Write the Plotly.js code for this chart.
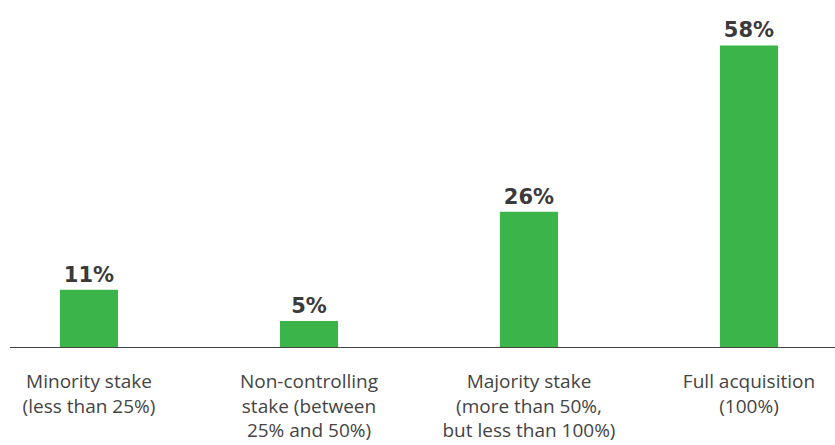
<!DOCTYPE html>
<html>
<head>
<meta charset="utf-8">
<script src="https://cdn.plot.ly/plotly-3.0.1.min.js"></script>
<style>html,body{margin:0;padding:0;background:#fff;}#chart{width:835px;height:445px;}</style>
</head>
<body>
<div id="chart"></div>
<script>
const categories = [
  "Minority stake<br>(less than 25%)",
  "Non-controlling<br>stake (between<br>25% and 50%)",
  "Majority stake<br>(more than 50%,<br>but less than 100%)",
  "Full acquisition<br>(100%)"
];
const values = [11, 5, 26, 58];
const valueLabels = ["11%", "5%", "26%", "58%"];

const trace = {
  type: 'bar',
  x: categories,
  y: values,
  text: valueLabels,
  textposition: 'outside',
  cliponaxis: false,
  textfont: {family: '"DejaVu Sans", sans-serif', size: 21, color: '#3a3a3a', weight: 700},
  marker: {color: '#3bb54a'},
  width: 0.264,
  hoverinfo: 'none'
};

const layout = {
  width: 835, height: 445,
  margin: {l: 10, r: 0, t: 35, b: 98},
  paper_bgcolor: '#fff', plot_bgcolor: '#fff',
  showlegend: false,
  bargap: 0.736,
  xaxis: {
    type: 'category',
    range: [-0.359, 3.391],
    showline: true, linecolor: '#444', linewidth: 1,
    showgrid: false, zeroline: false,
    ticks: 'outside', ticklen: 17, tickcolor: 'rgba(0,0,0,0)',
    tickfont: {family: '"Open Sans", sans-serif', size: 19, color: '#444'}
  },
  yaxis: {
    range: [0, 60],
    showgrid: false, zeroline: false, showline: false,
    showticklabels: false, ticks: ''
  }
};

Plotly.newPlot('chart', [trace], layout, {displayModeBar: false, staticPlot: true});
</script>
</body>
</html>
